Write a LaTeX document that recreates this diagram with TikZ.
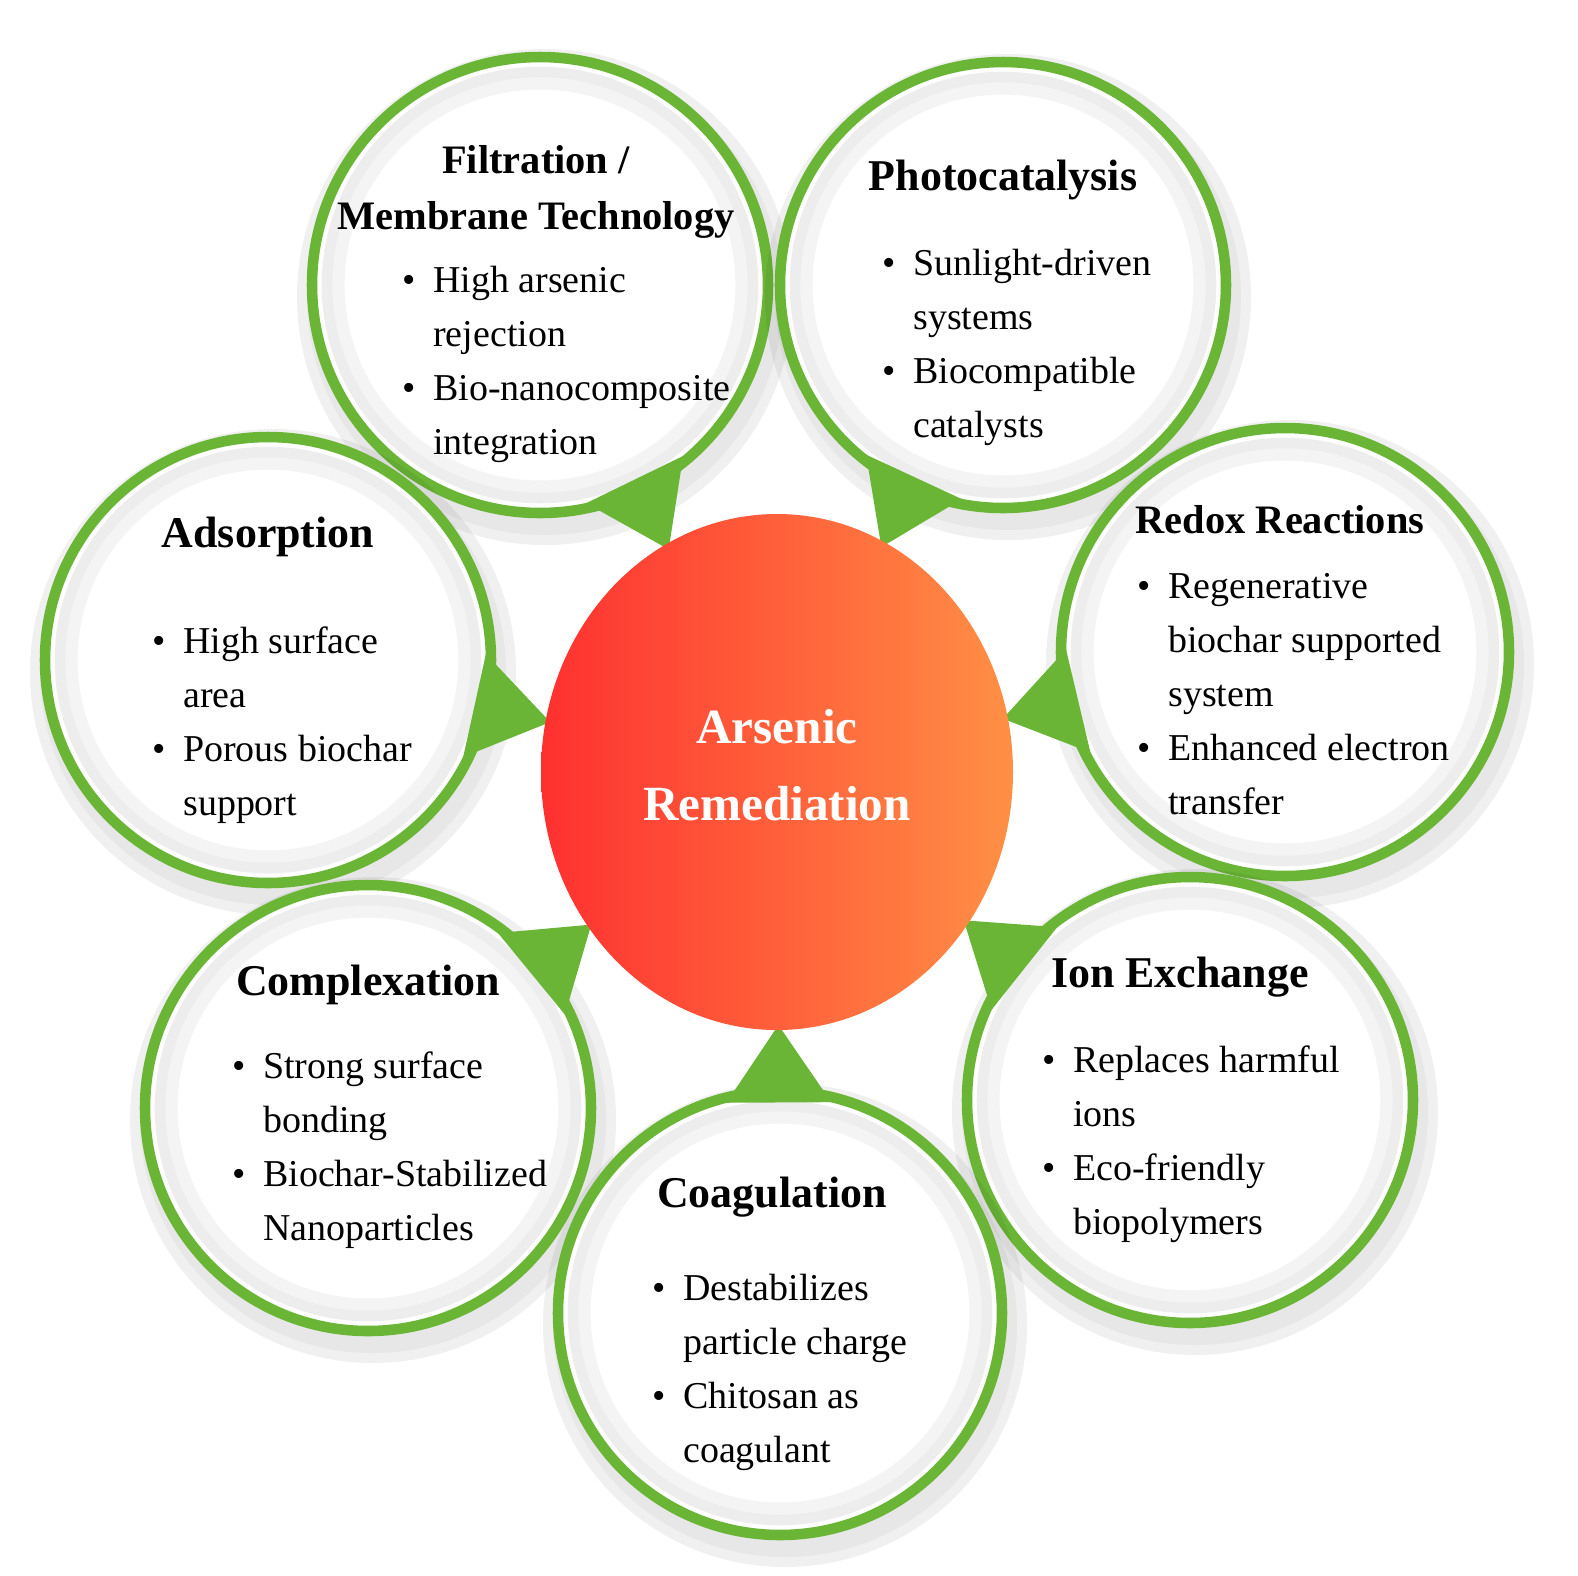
\documentclass[tikz,border=0pt]{standalone}
\usepackage{fontspec}
\setmainfont{Liberation Serif}
\usetikzlibrary{calc}
\definecolor{grn}{HTML}{6AB536}
\definecolor{cred}{HTML}{FF3030}
\definecolor{corg}{HTML}{FF9045}
\tikzset{
  ttl/.style={font=\fontsize{11.5}{14}\selectfont\bfseries},
  bl/.style={font=\fontsize{10.8}{15.4}\selectfont,align=left,anchor=north west},
}
\newcommand{\bubble}[3]{% name, center, radius
  \fill[black,opacity=0.06] ($(#2)+(0.05,-0.12)$) circle (#3+0.2);
  \fill[black,opacity=0.04] ($(#2)+(0.05,-0.12)$) circle (#3+0.1);
  \fill[white] (#2) circle (#3);
  \draw[gray!9,line width=6pt] (#2) circle (#3-0.22);
  \draw[gray!14,line width=3pt] (#2) circle (#3-0.15);
  \draw[grn,line width=3pt] (#2) circle (#3);
  \coordinate (#1) at (#2);
}
\newcommand{\ptr}[2]{% circle name, radius
  \fill[grn] ($(#1)!#2-0.05cm!14:(ctr)$) -- ($(#1)!#2+0.66cm!(ctr)$) -- ($(#1)!#2-0.05cm!-14:(ctr)$) -- cycle;
}
\newcommand{\BL}[1]{\begin{tabular}{@{}l@{\hspace{5pt}}l@{}}#1\end{tabular}}
\begin{document}
\begin{tikzpicture}
\useasboundingbox (0,0) rectangle (15.78,-15.75);
\coordinate (ctr) at (7.77,-7.72);
\bubble{fil}{5.40,-2.85}{2.28}
\bubble{pho}{10.03,-2.85}{2.23}
\bubble{ads}{2.68,-6.60}{2.23}
\bubble{red}{12.85,-6.52}{2.24}
\bubble{com}{3.68,-11.08}{2.23}
\bubble{ion}{11.90,-11.00}{2.23}
\bubble{coa}{7.80,-13.13}{2.22}
\ptr{fil}{2.28cm}
\ptr{pho}{2.23cm}
\ptr{ads}{2.23cm}
\ptr{red}{2.24cm}
\ptr{com}{2.23cm}
\ptr{ion}{2.23cm}
\ptr{coa}{2.22cm}
\shade[left color=cred,right color=corg] (ctr) ellipse (2.36 and 2.58);
\node[font=\fontsize{14}{20}\selectfont\bfseries,text=white,align=center] (c) at (7.77,-7.65) {Arsenic\\[2pt]Remediation};

\node[ttl,align=center] (fT) at (5.36,-1.92) {Filtration /\\[2pt]Membrane Technology};
\node[bl] at (3.90,-2.42) {\BL{\textbullet & High arsenic\\ & rejection\\ \textbullet & Bio-nanocomposite\\ & integration}};

\node[ttl] (pT) at (10.03,-1.80) {\fontsize{12.5}{15}\selectfont Photocatalysis};
\node[bl] at (8.70,-2.25) {\BL{\textbullet & Sunlight-driven\\ & systems\\ \textbullet & Biocompatible\\ & catalysts}};

\node[ttl] (aT) at (2.68,-5.37) {\fontsize{12.5}{15}\selectfont Adsorption};
\node[bl] at (1.40,-6.03) {\BL{\textbullet & High surface\\ & area\\ \textbullet & Porous biochar\\ & support}};

\node[ttl] (rT) at (12.80,-5.20) {Redox Reactions};
\node[bl] at (11.25,-5.48) {\BL{\textbullet & Regenerative\\ & biochar supported\\ & system\\ \textbullet & Enhanced electron\\ & transfer}};

\node[ttl] (cT) at (3.68,-9.85) {\fontsize{12.5}{15}\selectfont Complexation};
\node[bl] at (2.20,-10.28) {\BL{\textbullet & Strong surface\\ & bonding\\ \textbullet & Biochar-Stabilized\\ & Nanoparticles}};

\node[ttl] (iT) at (11.80,-9.77) {\fontsize{12.5}{15}\selectfont Ion Exchange};
\node[bl] at (10.30,-10.22) {\BL{\textbullet & Replaces harmful\\ & ions\\ \textbullet & Eco-friendly\\ & biopolymers}};

\node[ttl] (gT) at (7.72,-11.97) {\fontsize{12.5}{15}\selectfont Coagulation};
\node[bl] at (6.40,-12.50) {\BL{\textbullet & Destabilizes\\ & particle charge\\ \textbullet & Chitosan as\\ & coagulant}};
\end{tikzpicture}
\end{document}
